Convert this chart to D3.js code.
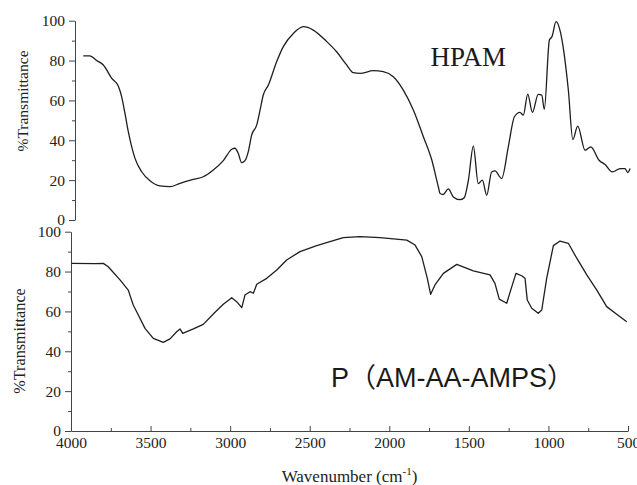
<!DOCTYPE html>
<html>
<head>
<meta charset="utf-8">
<script src="https://cdn.jsdelivr.net/npm/d3@7"></script>
<style>
  body { margin: 0; background: #fff; }
  svg { display: block; }
  .axis path, .axis line { stroke: #444; }
</style>
</head>
<body>
<div id="chart"></div>
<script>
// HPAM spectrum (wavenumber cm-1, %T)
var hpamWave = [3948, 3906, 3864, 3822, 3769, 3728, 3707, 3686, 3665, 3644, 3623, 3581, 3529, 3466, 3403, 3340, 3257, 3194, 3131, 3068,
  3015, 2995, 2974, 2953, 2932, 2911, 2890, 2858, 2837, 2817, 2785, 2733, 2691, 2628, 2565, 2503, 2418, 2356, 2293, 2251,
  2209, 2125, 2063, 2000, 1937, 1874, 1811, 1758, 1717, 1706, 1686, 1654, 1623, 1581, 1554, 1528, 1497, 1466, 1440, 1413,
  1382, 1361, 1319, 1277, 1239, 1204, 1183, 1155, 1126, 1089, 1067, 1051, 1019, 1003, 977, 952, 933, 900, 872, 841,
  795, 759, 707, 669, 623, 575, 544, 527, 512];
var hpamT = [82.4, 82.4, 80.0, 77.8, 71.1, 67.2, 61.9, 53.5, 44.3, 36.8, 30.9, 24.2, 19.7, 17.1, 16.7, 18.4, 20.4, 21.7, 25.1, 29.8,
  35.5, 36.0, 33.4, 28.8, 29.8, 34.3, 42.6, 47.7, 55.2, 62.7, 67.7, 79.4, 87.0, 93.6, 97.0, 95.3, 89.5, 84.4, 77.8, 73.9,
  73.6, 74.9, 74.4, 71.9, 65.2, 55.2, 41.8, 30.1, 16.7, 13.3, 12.8, 15.6, 11.6, 10.2, 11.2, 20.0, 37.0, 18.3, 20.0, 12.4,
  24.1, 24.6, 20.8, 36.8, 51.8, 54.0, 52.6, 63.2, 54.0, 63.0, 62.7, 55.5, 90.3, 92.0, 99.5, 95.0, 87.0, 65.2, 40.4, 47.1,
  35.0, 36.7, 30.0, 27.8, 24.1, 25.8, 25.8, 23.8, 25.8];

// P(AM-AA-AMPS) spectrum
var copoWave = [3996, 3850, 3797, 3766, 3692, 3640, 3609, 3577, 3535, 3483, 3420, 3378, 3336, 3315, 3298, 3231, 3169, 3095, 3043, 2990,
  2959, 2927, 2907, 2875, 2854, 2833, 2770, 2707, 2645, 2561, 2456, 2352, 2289, 2184, 2058, 1890, 1838, 1796, 1761, 1740,
  1713, 1660, 1576, 1472, 1367, 1336, 1309, 1262, 1237, 1204, 1168, 1147, 1133, 1105, 1064, 1042, 1011, 969, 927, 875,
  822, 759, 696, 634, 571, 508];
var copoT = [84.1, 84.0, 84.1, 82.4, 75.8, 70.7, 63.2, 58.2, 51.5, 46.5, 44.5, 46.2, 49.8, 51.2, 49.0, 51.2, 53.5, 59.6, 63.6, 66.9,
  64.9, 61.9, 68.2, 69.9, 69.1, 73.6, 76.6, 80.8, 85.8, 90.0, 93.0, 95.5, 97.0, 97.5, 97.0, 95.8, 93.3, 87.5, 76.6, 68.6,
  73.3, 79.1, 83.6, 80.3, 78.3, 74.1, 66.2, 64.1, 70.7, 79.1, 77.9, 76.6, 65.7, 61.6, 59.1, 60.7, 76.6, 93.0, 95.3, 94.2,
  86.7, 78.3, 70.7, 62.4, 58.6, 54.8];

var yMajor = [0, 20, 40, 60, 80, 100];
var yMinor = [10, 30, 50, 70, 90];
var xMajor = [4000, 3500, 3000, 2500, 2000, 1500, 1000, 500];
var xMinor = [3750, 3250, 2750, 2250, 1750, 1250, 750];

var width = 637, height = 485;
var serif = "'Liberation Serif', 'Times New Roman', serif";

var svg = d3.select("#chart").append("svg")
  .attr("width", width)
  .attr("height", height);

var xTop = d3.scaleLinear().domain([4000, 500]).range([75, 632]);
var yTop = d3.scaleLinear().domain([0, 100]).range([220, 20.7]);
var xBot = d3.scaleLinear().domain([4000, 500]).range([71, 628]);
var yBot = d3.scaleLinear().domain([0, 100]).range([431, 231.7]);

function styleTicks(g) {
  g.selectAll("text")
    .style("font-family", serif)
    .style("font-size", "15.5px")
    .style("fill", "#222");
}

function yAxis(scale, x) {
  svg.append("g")
    .attr("class", "axis")
    .attr("transform", "translate(" + x + ",0)")
    .call(d3.axisLeft(scale).tickValues(yMajor).tickSize(6).tickSizeOuter(0).tickPadding(4))
    .call(styleTicks);
  svg.append("g")
    .attr("class", "axis")
    .attr("transform", "translate(" + x + ",0)")
    .call(d3.axisLeft(scale).tickValues(yMinor).tickSize(3).tickSizeOuter(0).tickFormat(""))
    .select(".domain").remove();
}

yAxis(yTop, 75);
yAxis(yBot, 71);

// bottom x axis, ticks pointing inward
svg.append("g")
  .attr("class", "axis")
  .attr("transform", "translate(0,431)")
  .call(d3.axisBottom(xBot).tickValues(xMajor).tickSize(-5).tickSizeOuter(0).tickPadding(2.5)
    .tickFormat(d3.format("d")))
  .call(styleTicks)
  .selectAll("text").attr("dy", "0.95em");
svg.append("g")
  .attr("class", "axis")
  .attr("transform", "translate(0,431)")
  .call(d3.axisBottom(xBot).tickValues(xMinor).tickSize(-3).tickSizeOuter(0).tickFormat(""))
  .select(".domain").remove();

function spectrum(waves, vals, xs, ys, curve) {
  var pts = waves.map(function(w, i) { return [w, vals[i]]; });
  var line = d3.line()
    .x(function(d) { return xs(d[0]); })
    .y(function(d) { return ys(d[1]); })
    .curve(curve);
  svg.append("path")
    .datum(pts)
    .attr("fill", "none")
    .attr("stroke", "#1e1e1e")
    .attr("stroke-width", 1.3)
    .attr("stroke-linejoin", "round")
    .attr("d", line);
}

spectrum(hpamWave, hpamT, xTop, yTop, d3.curveMonotoneX);
spectrum(copoWave, copoT, xBot, yBot, d3.curveLinear);

// y axis titles
svg.append("text")
  .attr("transform", "translate(28,101) rotate(-90)")
  .attr("text-anchor", "middle")
  .style("font-family", serif)
  .style("font-size", "15.5px")
  .style("fill", "#222")
  .text("%Transmittance");
svg.append("text")
  .attr("transform", "translate(25,341) rotate(-90)")
  .attr("text-anchor", "middle")
  .style("font-family", serif)
  .style("font-size", "16.2px")
  .style("fill", "#222")
  .text("%Transmittance");

// x axis title
var xt = svg.append("text")
  .attr("x", 349.5)
  .attr("y", 482)
  .attr("text-anchor", "middle")
  .style("font-family", serif)
  .style("font-size", "17px")
  .style("fill", "#222");
xt.append("tspan").text("Wavenumber (cm");
xt.append("tspan").attr("dy", -7).style("font-size", "11px").text("-1");
xt.append("tspan").attr("dy", 7).text(")");

// series labels
svg.append("text")
  .attr("x", 430.5)
  .attr("y", 65.7)
  .style("font-family", serif)
  .style("font-size", "27px")
  .style("fill", "#1a1a1a")
  .text("HPAM");

svg.append("text")
  .attr("x", 331)
  .attr("y", 386.7)
  .style("font-family", "'Liberation Sans', 'Noto Sans CJK SC', sans-serif")
  .style("font-size", "27px")
  .style("fill", "#1a1a1a")
  .text("P（AM-AA-AMPS）");
</script>
</body>
</html>
